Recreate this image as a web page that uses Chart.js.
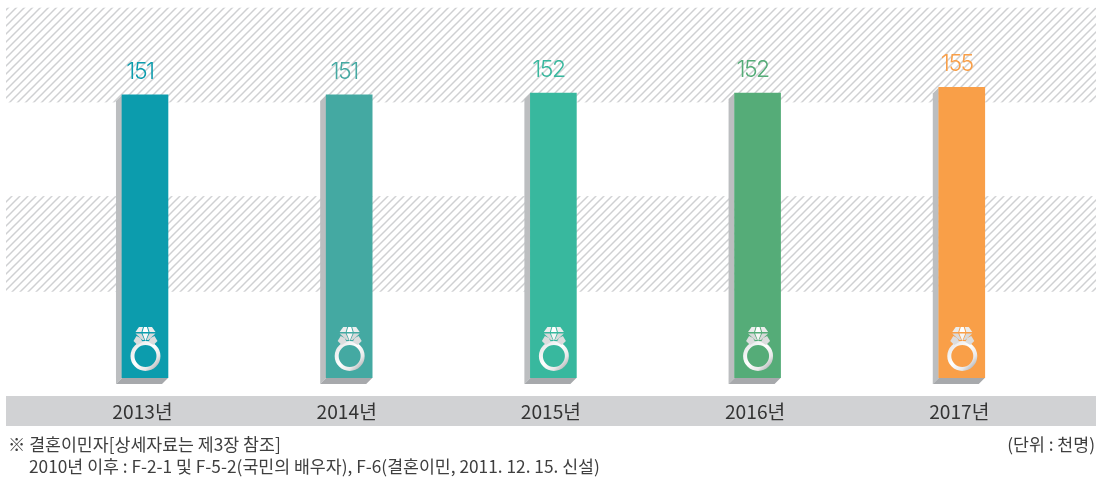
<!DOCTYPE html>
<html><head><meta charset="utf-8">
<script src="https://cdn.jsdelivr.net/npm/chart.js@4"></script>
<style>html,body{margin:0;padding:0;background:#fff;overflow:hidden}#w{width:1103px;height:479px;position:relative}</style>
</head><body><div id="w"><canvas id="c" width="1103" height="479"></canvas></div>
<script>
const categories = ['2013년','2014년','2015년','2016년','2017년'];
const values = [151,151,152,152,155];
const barColors = ['#0c9cad','#44a9a2','#38b89e','#55ac78','#f99f48'];
const hatchBands = [[147,197.5],[46,97]];
const noteLine1 = '※ 결혼이민자[상세자료는 제3장 참조]';
const noteLine2 = '2010년 이후 : F-2-1 및 F-5-2(국민의 배우자), F-6(결혼이민, 2011. 12. 15. 신설)';
const unitNote = '(단위 : 천명)';
const KR = '"Noto Sans CJK KR","Noto Sans",sans-serif';

function hatch(ctx){
  const w=8,h=8,t=document.createElement('canvas');t.width=w;t.height=h;
  const g=t.getContext('2d');g.strokeStyle='#cfd0d2';g.lineWidth=1.5;
  [[-w,h,w,-h],[-w,2*h,2*w,-h],[0,2*h,2*w,0]].forEach(l=>{g.beginPath();g.moveTo(l[0],l[1]);g.lineTo(l[2],l[3]);g.stroke();});
  return ctx.createPattern(t,'repeat');
}
function poly(c,pts,x,t){c.beginPath();pts.forEach((p,i)=>i?c.lineTo(x+p[0],t+p[1]):c.moveTo(x+p[0],t+p[1]));c.closePath();c.fill();}
function ring(ctx,x,base){
  x+=0.5;
  const cy=base-22,R=13;
  const gr=ctx.createLinearGradient(x-R,cy-R,x+R,cy+R);
  gr.addColorStop(0,'#e4e5e6');gr.addColorStop(.45,'#ffffff');gr.addColorStop(.75,'#e9e9ea');gr.addColorStop(1,'#a5a7aa');
  ctx.save();
  ctx.strokeStyle=gr;ctx.lineWidth=4;
  ctx.beginPath();ctx.arc(x,cy,R,0,Math.PI*2);ctx.stroke();
  const t=cy-29;
  ctx.fillStyle='#dcddde';
  poly(ctx,[[-9,9],[-5,11],[-3,15],[-8,18],[-12,14]],x,t);
  poly(ctx,[[9,9],[5,11],[3,15],[8,18],[12,14]],x,t);
  ctx.fillStyle='#eceded';
  poly(ctx,[[-6.5,0],[-2.5,0],[-4,5],[-10,5]],x,t);
  poly(ctx,[[6.5,0],[2.5,0],[4,5],[10,5]],x,t);
  ctx.fillStyle='#ffffff';
  poly(ctx,[[-1.5,0],[1.5,0],[3,5],[-3,5]],x,t);
  ctx.fillStyle='#d8d9da';
  poly(ctx,[[-10,6.5],[-4,6.5],[-1,13],[-3,13]],x,t);
  poly(ctx,[[10,6.5],[4,6.5],[1,13],[3,13]],x,t);
  ctx.fillStyle='#f5f5f5';
  poly(ctx,[[-3,6.5],[3,6.5],[0,14]],x,t);
  ctx.restore();
}
const decor={
  id:'decor',
  beforeDraw(ch){
    const c=ch.ctx,y=ch.scales.y;
    c.save();
    c.fillStyle=hatch(c);
    hatchBands.forEach(b=>{const t=y.getPixelForValue(b[1]),u=y.getPixelForValue(b[0]);c.fillRect(6,t,1090,u-t);});
    c.fillStyle='#d1d2d4';
    c.fillRect(6,396,1090,30);
    c.restore();
  },
  beforeDatasetsDraw(ch){
    const c=ch.ctx;
    ch.getDatasetMeta(0).data.forEach(b=>{
      const l=b.x-b.width/2,r=b.x+b.width/2,d=6;
      c.fillStyle='#bcbec0';
      c.beginPath();c.moveTo(l,b.y);c.lineTo(l-d,b.y+d);c.lineTo(l-d,b.base+d);c.lineTo(l,b.base);c.closePath();c.fill();
      c.fillStyle='#a7a9ac';
      c.beginPath();c.moveTo(l-d,b.base+d);c.lineTo(r-d,b.base+d);c.lineTo(r,b.base);c.lineTo(l,b.base);c.closePath();c.fill();
    });
  },
  afterDatasetsDraw(ch){
    const c=ch.ctx;
    c.save();
    ch.getDatasetMeta(0).data.forEach((b,i)=>{
      ring(c,b.x,b.base);
      c.fillStyle=barColors[i];
      c.font='300 23px Inter,Lato,sans-serif';
      c.letterSpacing='-1.5px';
      c.textAlign='center';c.textBaseline='alphabetic';
      c.fillText(String(values[i]),b.x-5,b.y-16);
    });
    c.letterSpacing='0px';
    c.fillStyle='#3f3f3f';
    c.font='17.3px '+KR;c.textBaseline='middle';
    c.textAlign='left';
    c.fillText(noteLine1,8,444);
    c.fillText(noteLine2,29,466);
    c.textAlign='right';
    c.fillText(unitNote,1095,444);
    c.restore();
  }
};
new Chart(document.getElementById('c'),{
  type:'bar',
  data:{labels:categories,datasets:[{data:values,backgroundColor:barColors,barThickness:46,borderWidth:0}]},
  options:{
    responsive:false,animation:false,
    layout:{padding:{left:42.875,right:39.125,top:3,bottom:0}},
    plugins:{legend:{display:false},tooltip:{enabled:false}},
    scales:{
      y:{display:false,min:0,max:200},
      x:{
        grid:{display:false},border:{display:false},
        ticks:{color:'#333',font:{size:19.2,family:KR},padding:14,labelOffset:-2.5,maxRotation:0},
        afterFit(s){s.height=101;}
      }
    }
  },
  plugins:[decor]
});
</script></body></html>
